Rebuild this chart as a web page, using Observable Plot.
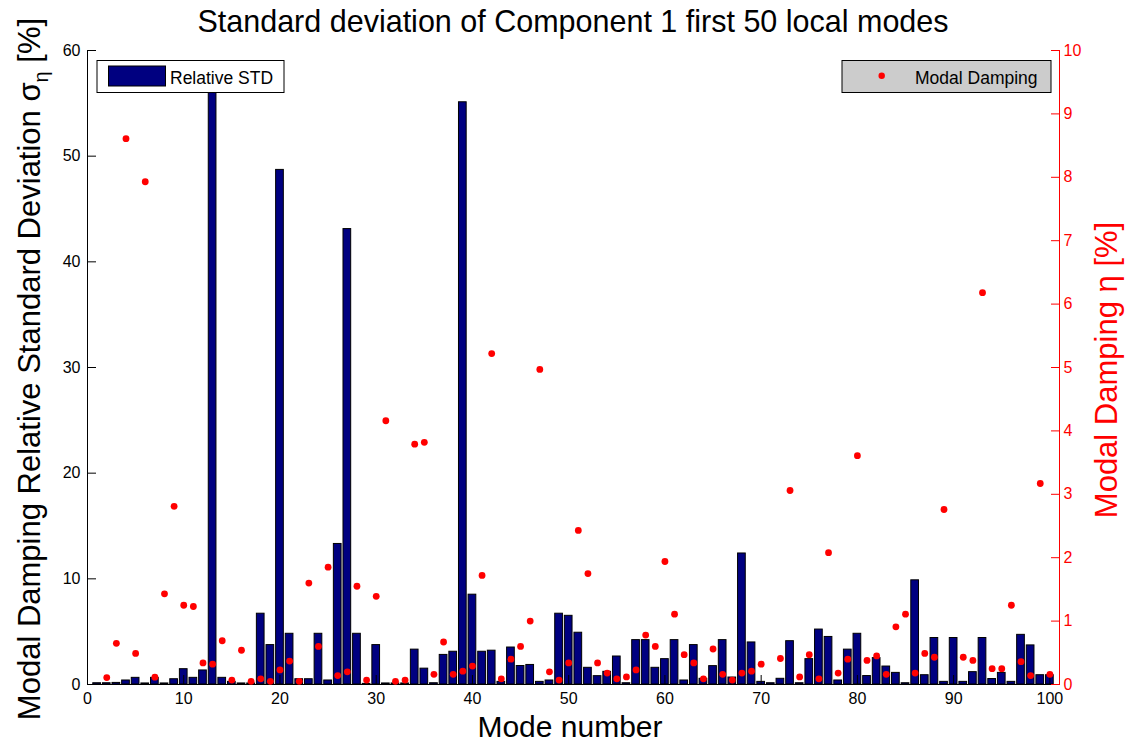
<!DOCTYPE html>
<html><head><meta charset="utf-8">
<script src="https://cdn.jsdelivr.net/npm/d3@7"></script>
<script src="https://cdn.jsdelivr.net/npm/@observablehq/plot@0.6"></script>
<style>body{margin:0;background:#fff;} svg{display:block}</style>
</head><body><div id="chart"></div>
<script>
const titleText = "Standard deviation of Component 1 first 50 local modes";
const xLabel = "Mode number";
const leftLabel = "Modal Damping Relative Standard Deviation σ";
const leftLabelSub = "η";
const leftLabelEnd = " [%]";
const rightLabel = "Modal Damping η [%]";
const legendBar = "Relative STD";
const legendDot = "Modal Damping";

const modes = [1,2,3,4,5,6,7,8,9,10,11,12,13,14,15,16,17,18,19,20,
  21,22,23,24,25,26,27,28,29,30,31,32,33,34,35,36,37,38,39,40,
  41,42,43,44,45,46,47,48,49,50,51,52,53,54,55,56,57,58,59,60,
  61,62,63,64,65,66,67,68,69,70,71,72,73,74,75,76,77,78,79,80,
  81,82,83,84,85,86,87,88,89,90,91,92,93,94,95,96,97,98,99,100];

const relStd = [0.12,0.12,0.15,0.38,0.63,0.1,0.63,0.1,0.5,1.45,
  0.63,1.33,57.5,0.63,0.25,0.1,0.1,6.7,3.73,48.7,
  4.8,0.5,0.5,4.8,0.38,13.3,43.1,4.8,0.06,3.73,
  0.1,0.1,0.1,3.3,1.5,0.12,2.8,3.1,55.1,8.5,
  3.1,3.2,0.25,3.5,1.75,1.85,0.25,0.38,6.7,6.5,
  4.9,1.58,0.79,1.2,2.65,0.12,4.2,4.2,1.58,2.4,
  4.2,0.38,3.73,0.54,1.74,4.2,0.66,12.4,3.98,0.25,
  0.12,0.54,4.1,0.12,2.4,5.2,4.5,0.38,3.3,4.8,
  0.8,2.5,1.7,1.1,0.12,9.86,0.88,4.4,0.25,4.4,
  0.25,1.17,4.4,0.52,1.1,0.25,4.7,3.7,0.88,0.88];

const damping = [null,0.11,0.65,8.61,0.49,7.93,0.115,1.43,2.81,1.25,
  1.23,0.34,0.32,0.69,0.07,0.54,0.05,0.09,0.05,0.23,
  0.37,0.05,1.6,0.6,1.85,0.14,0.2,1.55,0.07,1.39,
  4.16,0.05,0.07,3.79,3.82,0.16,0.67,0.16,0.21,0.29,
  1.72,5.22,0.09,0.4,0.6,1.0,4.97,0.2,0.07,0.34,
  2.43,1.75,0.34,0.18,0.09,0.12,0.23,0.78,0.6,1.94,
  1.11,0.47,0.34,0.09,0.56,0.16,0.07,0.18,0.21,0.32,
  null,0.41,3.06,0.12,0.47,0.09,2.08,0.18,0.4,3.61,
  0.38,0.45,0.16,0.91,1.11,0.18,0.49,0.43,2.76,null,
  0.43,0.38,6.18,0.25,0.25,1.25,0.36,0.14,3.17,0.16];

const xTicks = [0,10,20,30,40,50,60,70,80,90,100];
const leftTicks = [0,10,20,30,40,50,60];
const rightTicks = [0,1,2,3,4,5,6,7,8,9,10];

const xDomain = [0, 101];
const leftMax = 60, rightMax = 10;
const k = leftMax / rightMax;
const barHalf = 0.4;
const FONT = "'Liberation Sans', Arial, Helvetica, sans-serif";
const NAVY = "#000080", RED = "#ff0000";

const rows = modes.map((m, i) => ({mode: m, std: relStd[i], damp: damping[i]}));

const chart = Plot.plot({
  width: 1131, height: 744,
  marginTop: 50, marginBottom: 60, marginLeft: 87, marginRight: 72,
  style: {fontFamily: FONT, background: "#fff", color: "#000"},
  x: {domain: xDomain},
  y: {domain: [0, leftMax]},
  marks: [
    Plot.rectY(rows, {x1: d => d.mode - barHalf, x2: d => d.mode + barHalf, y: "std", fill: NAVY, stroke: "#000", strokeWidth: 1}),
    Plot.ruleY([0], {stroke: "#000"}),
    Plot.ruleX([0], {stroke: "#000"}),
    Plot.ruleX([xDomain[1]], {stroke: RED}),
    Plot.axisX(xTicks, {tickSize: -9, tickPadding: 17, fontSize: 16, color: "#000", label: null}),
    Plot.axisY(leftTicks, {anchor: "left", tickSize: -9, tickPadding: 16, fontSize: 16, color: "#000", label: null}),
    Plot.axisY(rightTicks.map(t => t * k), {anchor: "right", tickSize: -9, tickPadding: 13, tickFormat: d => String(Math.round(d / k)), fontSize: 16, color: RED, label: null}),
    Plot.dot(rows.filter(d => d.damp != null), {x: "mode", y: d => d.damp * k, r: 3.4, fill: RED, stroke: "none"})
  ]
});

const svg = d3.select(chart);
svg.append("text").attr("x", 573).attr("y", 31.5).attr("text-anchor", "middle")
  .attr("font-family", FONT).attr("font-size", 30.5).attr("fill", "#000").text(titleText);
svg.append("text").attr("x", 570).attr("y", 737).attr("text-anchor", "middle")
  .attr("font-family", FONT).attr("font-size", 30).attr("fill", "#000").text(xLabel);
const lt = svg.append("text").attr("transform", "translate(40,369) rotate(-90)").attr("text-anchor", "middle")
  .attr("font-family", FONT).attr("font-size", 31).attr("fill", "#000");
lt.append("tspan").text(leftLabel);
lt.append("tspan").attr("font-size", 20).attr("dy", 8).text(leftLabelSub);
lt.append("tspan").attr("dy", -8).text(leftLabelEnd);
svg.append("text").attr("transform", "translate(1117,370) rotate(-90)").attr("text-anchor", "middle")
  .attr("font-family", FONT).attr("font-size", 31).attr("fill", RED).text(rightLabel);

const lg = svg.append("g").attr("font-family", FONT).attr("font-size", 17.5).attr("fill", "#000").attr("text-anchor", "start");
lg.append("rect").attr("x", 97).attr("y", 60.5).attr("width", 187).attr("height", 32).attr("fill", "#fff").attr("stroke", "#000");
lg.append("rect").attr("x", 108.5).attr("y", 66).attr("width", 57).attr("height", 20).attr("fill", NAVY).attr("stroke", "#000");
lg.append("text").attr("x", 170).attr("y", 83.5).attr("text-anchor", "start").text(legendBar);
lg.append("rect").attr("x", 842).attr("y", 60.5).attr("width", 209).attr("height", 32).attr("fill", "#ccc").attr("stroke", "#000");
lg.append("circle").attr("cx", 881.7).attr("cy", 75.7).attr("r", 3.2).attr("fill", RED);
lg.append("text").attr("x", 915).attr("y", 83.5).attr("text-anchor", "start").text(legendDot);

document.getElementById("chart").appendChild(chart);
</script></body></html>
